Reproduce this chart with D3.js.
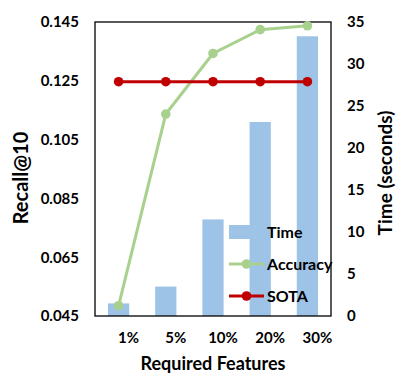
<!DOCTYPE html>
<html>
<head>
<meta charset="utf-8">
<script src="https://cdn.jsdelivr.net/npm/d3@7"></script>
<style>
  body { margin: 0; background: #fff; }
  text { font-family: Lato, "Open Sans", sans-serif; font-weight: bold; fill: #000; }
</style>
</head>
<body>
<div id="chart"></div>
<script>
const categories = ["1%", "5%", "10%", "20%", "30%"];
const timeSeconds = [1.5, 3.5, 11.5, 23.1, 33.3];
const accuracy = [0.0485, 0.1137, 0.1343, 0.1424, 0.1437];
const sota = [0.1247, 0.1247, 0.1247, 0.1247, 0.1247];
const leftTicks = [0.045, 0.065, 0.085, 0.105, 0.125, 0.145];
const rightTicks = [0, 5, 10, 15, 20, 25, 30, 35];

const width = 407, height = 381;
const plot = { left: 95, right: 331, top: 22, bottom: 316 };

const barColor = "#9DC3E6";
const accColor = "#A9D18E";
const sotaColor = "#C00000";

const svg = d3.select("#chart").append("svg")
  .attr("width", width)
  .attr("height", height);

const x = d3.scaleBand(categories, [plot.left, plot.right]).paddingInner(0.55).paddingOuter(0.275);
const yLeft = d3.scaleLinear([0.045, 0.145], [plot.bottom, plot.top]);
const yRight = d3.scaleLinear([0, 35], [plot.bottom, plot.top]);
const cx = d => x(d) + x.bandwidth() / 2;

// bars (Time)
svg.append("g")
  .selectAll("rect")
  .data(categories)
  .join("rect")
    .attr("x", d => x(d))
    .attr("width", x.bandwidth())
    .attr("y", (d, i) => yRight(timeSeconds[i]))
    .attr("height", (d, i) => yRight(0) - yRight(timeSeconds[i]))
    .attr("fill", barColor);

// plot frame
svg.append("rect")
  .attr("x", plot.left).attr("y", plot.top)
  .attr("width", plot.right - plot.left).attr("height", plot.bottom - plot.top)
  .attr("fill", "none").attr("stroke", "#000").attr("stroke-width", 1.3);

function drawLine(values, color) {
  const line = d3.line()
    .x((d, i) => cx(categories[i]))
    .y(d => yLeft(d));
  svg.append("path")
    .datum(values)
    .attr("d", line)
    .attr("fill", "none")
    .attr("stroke", color)
    .attr("stroke-width", 3);
  svg.append("g")
    .selectAll("circle")
    .data(values)
    .join("circle")
      .attr("cx", (d, i) => cx(categories[i]))
      .attr("cy", d => yLeft(d))
      .attr("r", 4.8)
      .attr("fill", color);
}
drawLine(accuracy, accColor);
drawLine(sota, sotaColor);

// left axis
const leftAxis = d3.axisLeft(yLeft).tickValues(leftTicks).tickFormat(d3.format(".3f")).tickSize(0).tickPadding(16);
svg.append("g")
  .attr("transform", `translate(${plot.left},0)`)
  .call(leftAxis)
  .call(g => g.select(".domain").remove())
  .selectAll("text").style("font-size", "15px");

// right axis
const rightAxis = d3.axisRight(yRight).tickValues(rightTicks).tickSize(0).tickPadding(16);
svg.append("g")
  .attr("transform", `translate(${plot.right},0)`)
  .call(rightAxis)
  .call(g => g.select(".domain").remove())
  .selectAll("text").style("font-size", "15px");

// x axis labels (offset slightly right of the bars, as in the original)
const xAxis = d3.axisBottom(x).tickSize(0).tickPadding(16);
svg.append("g")
  .attr("transform", `translate(10,${plot.bottom})`)
  .call(xAxis)
  .call(g => g.select(".domain").remove())
  .selectAll("text").style("font-size", "15px");

// axis titles
svg.append("text")
  .attr("transform", "translate(28,178) rotate(-90)")
  .attr("text-anchor", "middle")
  .style("font-size", "20px")
  .text("Recall@10");

svg.append("text")
  .attr("transform", "translate(392,173) rotate(-90)")
  .attr("text-anchor", "middle")
  .style("font-size", "19px")
  .text("Time (seconds)");

svg.append("text")
  .attr("x", 213)
  .attr("y", 370)
  .attr("text-anchor", "middle")
  .style("font-size", "18px")
  .text("Required Features");

// legend
const legendItems = [
  { label: "Time", type: "bar", color: barColor },
  { label: "Accuracy", type: "line", color: accColor },
  { label: "SOTA", type: "line", color: sotaColor }
];
const legend = svg.append("g").attr("transform", "translate(229,232)");
legendItems.forEach(function (item, i) {
  const g = legend.append("g").attr("transform", `translate(0,${i * 32})`);
  if (item.type === "bar") {
    g.append("rect").attr("x", 0).attr("y", -7).attr("width", 21).attr("height", 14).attr("fill", item.color);
  } else {
    g.append("line").attr("x1", 0).attr("x2", 35).attr("y1", 0).attr("y2", 0)
      .attr("stroke", item.color).attr("stroke-width", 3);
    g.append("circle").attr("cx", 17.5).attr("cy", 0).attr("r", 4.8).attr("fill", item.color);
  }
  g.append("text")
    .attr("x", 38)
    .attr("y", 0)
    .attr("dy", "0.35em")
    .style("font-size", "16px")
    .text(item.label);
});
</script>
</body>
</html>
